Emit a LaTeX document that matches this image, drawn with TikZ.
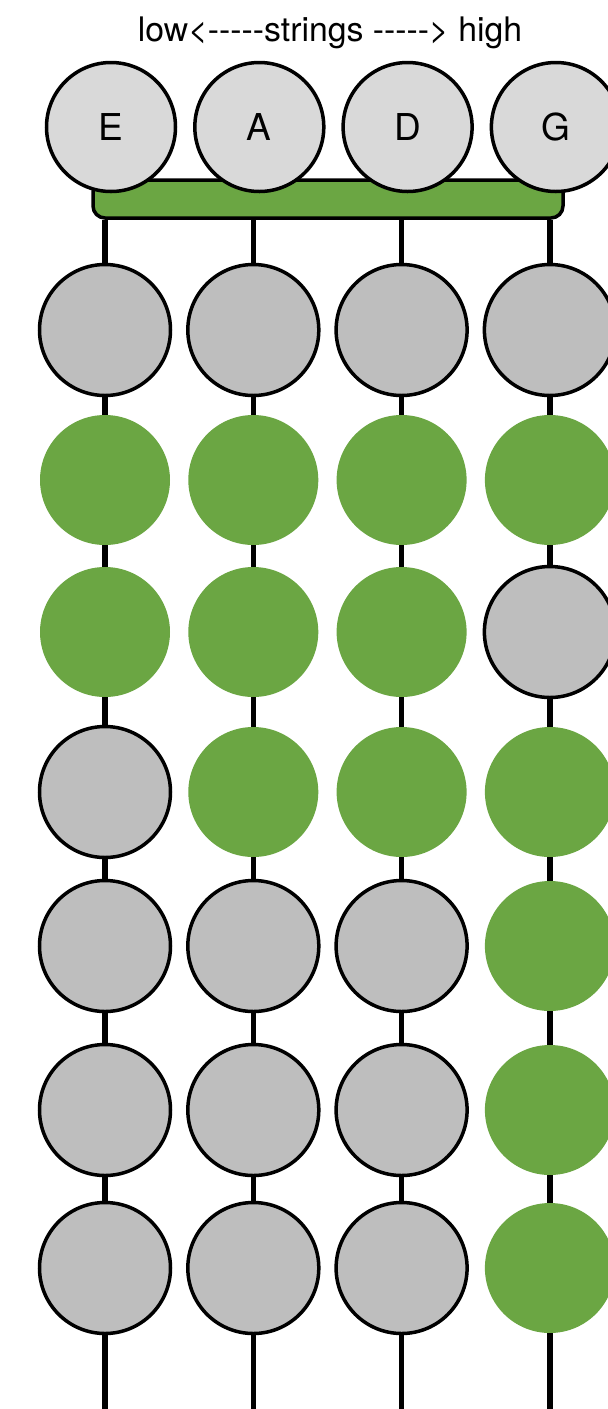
\documentclass[tikz,border=0pt]{standalone}
\usepackage{fontspec}
\setmainfont{TeX Gyre Heros}[Ligatures=TeXOff]
\definecolor{leafgreen}{HTML}{6BA643}
\definecolor{dotgray}{HTML}{BEBEBE}
\definecolor{opengray}{HTML}{D9D9D9}
\begin{document}
\begin{tikzpicture}[x=1pt, y=-1pt,
    open/.style={circle, draw, line width=3.5pt, fill=opengray, minimum size=129pt, inner sep=0pt, font=\fontsize{37}{37}\selectfont},
    off/.style={circle, draw, line width=3.5pt, fill=dotgray, minimum size=131pt, inner sep=0pt},
    on/.style={circle, fill=leafgreen, minimum size=130pt, inner sep=0pt},
    stringline/.style={line width=5.5pt}]
    \useasboundingbox (0,0) rectangle (608,1409);
    \node[anchor=base, font=\fontsize{33.8}{40}\selectfont] (title) at (330,41) {low<-----strings -----> high};
    % nut
    \node[draw, line width=3.5pt, fill=leafgreen, rounded corners=12pt, minimum width=470pt, minimum height=38pt] (bar) at (328,199) {};
    \foreach \n [count=\k] in {E,A,D,G}
        \node[open] (s-\k) at ({111+148.3*(\k-1)},127) {\n};
    % finger positions
    \foreach \y/\cells [count=\r] in {330/{off,off,off,off}, 480/{on,on,on,on}, 632/{on,on,on,off}, 792/{off,on,on,on},
                                      946/{off,off,off,on}, 1110/{off,off,off,on}, 1268/{off,off,off,on}}
        \foreach \s [count=\k] in \cells
            \node[\s] (n-\r-\k) at ({105+148.3*(\k-1)},\y) {};
    \coordinate (bottom) at (0,1409);
    \foreach \k in {1,...,4} {
        \draw[stringline] (bar.south -| n-1-\k) -- (n-1-\k);
        \foreach \r [evaluate=\r as \nx using int(\r+1)] in {1,...,6}
            \draw[stringline] (n-\r-\k) -- (n-\nx-\k);
        \draw[stringline] (n-7-\k) -- (n-7-\k |- bottom);
    }
\end{tikzpicture}
\end{document}
